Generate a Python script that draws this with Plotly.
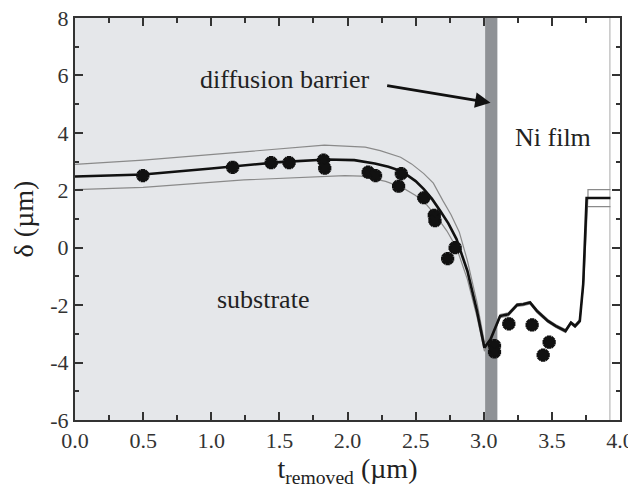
import plotly.graph_objects as go

# measured points
t_meas = [0.498, 1.157, 1.44, 1.571, 1.824, 1.833, 2.152, 2.206, 2.395, 2.375, 2.56, 2.637, 2.642,
          2.79, 2.735, 3.079, 3.079, 3.184, 3.355, 3.48, 3.436]
d_meas = [2.51, 2.80, 2.96, 2.96, 3.05, 2.77, 2.63, 2.51, 2.58, 2.14, 1.74, 1.13, 0.94,
          0.0, -0.38, -3.41, -3.63, -2.65, -2.69, -3.29, -3.74]

# best-fit curve
t_fit = [0.0, 0.5, 1.0, 1.5, 1.85, 2.05, 2.2, 2.3, 2.4, 2.5, 2.56, 2.62, 2.68, 2.74, 2.8, 2.88, 2.95, 3.005,
         3.05, 3.12, 3.18, 3.245, 3.29, 3.34, 3.39, 3.47, 3.53, 3.60, 3.64, 3.67, 3.705, 3.73, 3.755, 3.93]
d_fit = [2.48, 2.55, 2.76, 2.98, 3.07, 3.05, 2.93, 2.82, 2.66, 2.32, 2.04, 1.70, 1.29, 0.85, 0.30, -0.81, -2.2, -3.48,
         -3.19, -2.38, -2.32, -1.99, -1.97, -1.91, -2.2, -2.55, -2.73, -2.9, -2.61, -2.73, -2.55, -1.27, 1.73, 1.73]

# upper bound curve
t_up = [0.0, 0.5, 1.24, 1.83, 2.13, 2.24, 2.39, 2.47, 2.56, 2.63, 2.70, 2.76, 2.82, 2.88, 2.95, 3.005,
        3.05, 3.12, 3.18, 3.245, 3.29, 3.34, 3.39, 3.47, 3.53, 3.60, 3.64, 3.67, 3.705, 3.735, 3.765, 3.765, 3.93]
d_up = [2.90, 3.05, 3.34, 3.57, 3.50, 3.38, 3.15, 2.92, 2.58, 2.25, 1.64, 1.15, 0.55, -0.45, -1.9, -3.3,
        -3.12, -2.33, -2.27, -1.95, -1.93, -1.87, -2.15, -2.5, -2.68, -2.85, -2.57, -2.68, -2.5, -1.1, 1.8, 2.02, 2.02]

# lower bound curve
t_lo = [0.0, 0.5, 1.24, 1.98, 2.1, 2.28, 2.4, 2.5, 2.58, 2.66, 2.73, 2.8, 2.88, 2.95, 3.005,
        3.05, 3.12, 3.18, 3.245, 3.29, 3.34, 3.39, 3.47, 3.53, 3.60, 3.64, 3.67, 3.705, 3.73, 3.755, 3.93]
d_lo = [2.02, 2.10, 2.36, 2.51, 2.49, 2.31, 2.10, 1.82, 1.50, 1.05, 0.58, 0.0, -1.1, -2.4, -3.6,
        -3.26, -2.44, -2.38, -2.04, -2.02, -1.96, -2.26, -2.6, -2.78, -2.95, -2.66, -2.78, -2.6, -1.35, 1.43, 1.43]

x_ticks = [0.0, 0.5, 1.0, 1.5, 2.0, 2.5, 3.0, 3.5, 4.0]
x_ticklabels = ["0.0", "0.5", "1.0", "1.5", "2.0", "2.5", "3.0", "3.5", "4.0"]
y_ticks = [-6, -4, -2, 0, 2, 4, 6, 8]
y_ticklabels = ["-6", "-4", "-2", "0", "2", "4", "6", "8"]

substrate_end = 3.01
barrier_end = 3.10
film_end = 3.926

FONT = "Liberation Serif, Times New Roman, serif"

fig = go.Figure()
fig.add_trace(go.Scatter(x=t_up, y=d_up, mode="lines", line=dict(color="#8a8a8a", width=1.2), showlegend=False))
fig.add_trace(go.Scatter(x=t_lo, y=d_lo, mode="lines", line=dict(color="#8a8a8a", width=1.2), showlegend=False))
fig.add_trace(go.Scatter(x=t_fit, y=d_fit, mode="lines", line=dict(color="#111111", width=2.6), showlegend=False))
fig.add_trace(go.Scatter(x=t_meas, y=d_meas, mode="markers", showlegend=False,
                         marker=dict(symbol="cross", size=11, color="#111111")))
fig.add_trace(go.Scatter(x=t_meas, y=d_meas, mode="markers", showlegend=False,
                         marker=dict(symbol="x", size=11, color="#111111")))

fig.add_shape(type="rect", xref="x", yref="y", x0=0, x1=substrate_end, y0=-6, y1=8,
              fillcolor="#e5e7ea", line=dict(width=0), layer="below")
fig.add_shape(type="rect", xref="x", yref="y", x0=substrate_end, x1=barrier_end, y0=-6, y1=8,
              fillcolor="#8f9296", line=dict(width=0), layer="below")
fig.add_shape(type="line", xref="x", yref="y", x0=film_end, x1=film_end, y0=-6, y1=8,
              line=dict(color="#aaaaaa", width=1), layer="below")

fig.add_annotation(x=1.54, y=5.86, text="diffusion barrier", showarrow=False,
                   font=dict(family=FONT, size=26, color="#222"))
fig.add_annotation(x=3.05, y=5.05, ax=2.28, ay=5.65, axref="x", ayref="y", xref="x", yref="y",
                   text="", showarrow=True, arrowhead=2, arrowsize=1.1, arrowwidth=2.8, arrowcolor="#111")
fig.add_annotation(x=3.51, y=3.84, text="Ni film", showarrow=False,
                   font=dict(family=FONT, size=26, color="#222"))
fig.add_annotation(x=1.38, y=-1.81, text="substrate", showarrow=False,
                   font=dict(family=FONT, size=26, color="#222"))

axis_common = dict(showgrid=False, zeroline=False, showline=True, linecolor="#333", linewidth=2,
                   ticks="inside", mirror="ticks", tickcolor="#333", tickwidth=1.5, ticklen=8,
                   automargin=False, ticklabeloverflow="allow",
                   tickfont=dict(family=FONT, size=22, color="#333"))

fig.update_xaxes(range=[0, 4.0], tickvals=x_ticks, ticktext=x_ticklabels,
                 minor=dict(dtick=0.25, tick0=0, ticks="inside", ticklen=5, tickcolor="#333", tickwidth=1.5),
                 title=dict(text="t<sub>removed</sub> (µm)", font=dict(family=FONT, size=28, color="#222"),
                            standoff=0),
                 **axis_common)
fig.update_yaxes(range=[-6, 8], tickvals=y_ticks, ticktext=y_ticklabels,
                 minor=dict(dtick=1, tick0=0, ticks="inside", ticklen=4, tickcolor="#333", tickwidth=1.5),
                 title=dict(text="δ (µm)", font=dict(family=FONT, size=28, color="#222"), standoff=8),
                 **axis_common)

fig.update_layout(width=636, height=500, margin=dict(l=67, r=24, t=10, b=88),
                  font=dict(family=FONT),
                  plot_bgcolor="white", paper_bgcolor="white")

fig.write_html("out.html")
